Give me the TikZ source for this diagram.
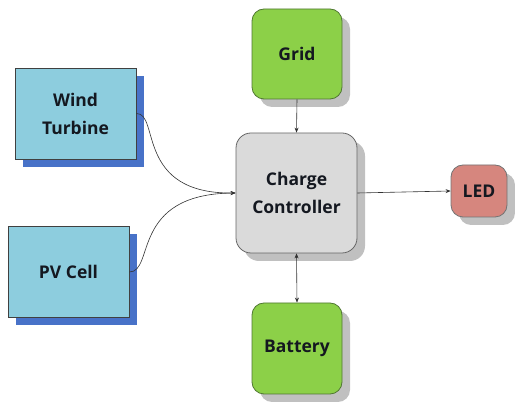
\documentclass[tikz,border=0pt]{standalone}
\usepackage{fontspec}
\setmainfont{Open Sans}
\usetikzlibrary{arrows.meta}
\definecolor{bluefill}{RGB}{141,205,222}
\definecolor{blueshadow}{RGB}{72,114,200}
\definecolor{greenfill}{RGB}{140,208,72}
\definecolor{greenline}{RGB}{80,120,50}
\definecolor{grayfill}{RGB}{218,218,218}
\definecolor{ledfill}{RGB}{214,134,126}
\definecolor{textcol}{RGB}{20,24,32}
\tikzset{
  lbl/.style={font=\bfseries\fontsize{17.5}{28}\selectfont, text=textcol, align=center},
  srcbox/.style={lbl, rectangle, draw=black!75, line width=0.8pt, fill=bluefill, minimum width=121pt, minimum height=91pt, inner sep=0pt},
  bshadow/.style={rectangle, fill=blueshadow, minimum width=121pt, minimum height=91pt, inner sep=0pt},
  roundbox/.style={lbl, rectangle, rounded corners=12pt, line width=0.8pt, inner sep=0pt},
  gshadow/.style={rectangle, rounded corners=12pt, fill=black!45, opacity=0.55, inner sep=0pt},
  conn/.style={line width=0.6pt, draw=black!80, -{Stealth[length=5pt,width=4pt]}},
}
\begin{document}
\begin{tikzpicture}[x=1pt,y=-1pt]
\useasboundingbox (0,0) rectangle (515,403);
% shadows
\node[bshadow] at (83.5,121.5) {};
\node[bshadow] at (76.5,280) {};
\node[gshadow, minimum width=90pt, minimum height=90pt] at (305,62) {};
\node[gshadow, minimum width=121pt, minimum height=120pt, rounded corners=15pt] at (304.5,201) {};
\node[gshadow, minimum width=56pt, minimum height=52pt] at (487,199) {};
\node[gshadow, minimum width=90pt, minimum height=91pt] at (305,356.5) {};
% boxes
\node[srcbox] (wind) at (75.5,113.5) {Wind\\Turbine};
\node[srcbox] (pv) at (68.5,272) {PV Cell};
\node[roundbox, draw=greenline, fill=greenfill, minimum width=90pt, minimum height=90pt] (grid) at (297,54) {Grid};
\node[roundbox, draw=black!60, fill=grayfill, minimum width=121pt, minimum height=120pt, rounded corners=15pt] (cc) at (296.5,193) {Charge\\Controller};
\node[roundbox, draw=black!55, fill=ledfill, minimum width=56pt, minimum height=52pt] (led) at (479,191) {LED};
\node[roundbox, draw=greenline, fill=greenfill, minimum width=90pt, minimum height=91pt] (bat) at (297,348.5) {Battery};
% connectors
\coordinate (ccin) at (cc.west);
\draw[conn] (wind.east) .. controls (160,113) and (135,194) .. (ccin);
\draw[conn] (pv.east) .. controls (155,272) and (130,194) .. (ccin);
\draw[conn] (grid.south) -- (cc.north);
\draw[conn] (cc.east) -- (led.west);
\draw[conn, {Stealth[length=5pt,width=4pt]}-{Stealth[length=5pt,width=4pt]}] (cc.south) -- (bat.north);
\end{tikzpicture}
\end{document}
